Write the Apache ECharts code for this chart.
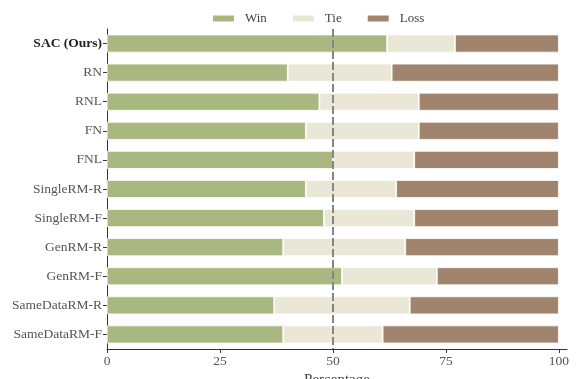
<!DOCTYPE html>
<html><head><meta charset="utf-8">
<script src="https://cdn.jsdelivr.net/npm/echarts@6/dist/echarts.min.js"></script>
<style>html,body{margin:0;padding:0;background:#fff}#c{width:577px;height:379px}</style>
</head><body><div id="c"></div>
<script>
const categories = ['SAC (Ours)','RN','RNL','FN','FNL','SingleRM-R','SingleRM-F','GenRM-R','GenRM-F','SameDataRM-R','SameDataRM-F'];
const winVals  = [62,40,47,44,50,44,48,39,52,37,39];
const tieVals  = [15,23,22,25,18,20,20,27,21,30,22];
const lossVals = [23,37,31,31,32,36,32,34,27,33,39];
const xTicks = [0,25,50,75,100];
const seriesNames = ['Win','Tie','Loss'];
const colors = ['#a9b780','#eae7d6','#a0846d'];
const FONT = '"Liberation Serif", "DejaVu Serif", serif';

const chart = echarts.init(document.getElementById('c'));
const vals = [winVals, tieVals, lossVals];
chart.setOption({
  animation:false,
  textStyle:{fontFamily:FONT},
  legend:{top:7,left:206,itemWidth:23,itemHeight:8,itemGap:24,icon:'rect',
    textStyle:{fontFamily:FONT,fontSize:13,color:'#444',padding:[0,0,0,5]},data:seriesNames},
  grid:{left:107,right:10,top:29,bottom:30,containLabel:false,outerBoundsMode:'none'},
  xAxis:{type:'value',min:0,max:101.8,
    axisLine:{show:true,lineStyle:{color:'#333',width:1}},
    axisTick:{show:true,length:4,customValues:xTicks,lineStyle:{color:'#333'}},
    axisLabel:{customValues:xTicks,fontFamily:FONT,fontSize:13.5,color:'#555',margin:5},
    splitLine:{show:false},
    name:'Percentage',nameLocation:'middle',nameGap:22,
    nameTextStyle:{fontFamily:FONT,fontSize:15,color:'#444'}},
  yAxis:{type:'category',data:categories,inverse:true,
    axisLine:{show:true,lineStyle:{color:'#333',width:1}},
    axisTick:{show:true,alignWithLabel:true,length:4,lineStyle:{color:'#333'}},
    axisLabel:{fontFamily:FONT,fontSize:13.5,color:'#555',margin:5,
      formatter:(v,i)=> i===0 ? '{b|'+v+'}' : v,
      rich:{b:{fontFamily:FONT,fontSize:13.5,fontWeight:'bold',color:'#222'}}}},
  series: seriesNames.map((n,k)=>({
    name:n,type:'bar',stack:'all',barWidth:18,data:vals[k],
    itemStyle:{color:colors[k],borderColor:'#fff',borderWidth:0.8},
    emphasis:{disabled:true},
    markLine: k===2 ? {silent:true,symbol:'none',z:10,label:{show:false},
      lineStyle:{type:[8,3],color:'#858585',width:2},data:[{xAxis:50}]} : undefined
  }))
});
</script></body></html>
